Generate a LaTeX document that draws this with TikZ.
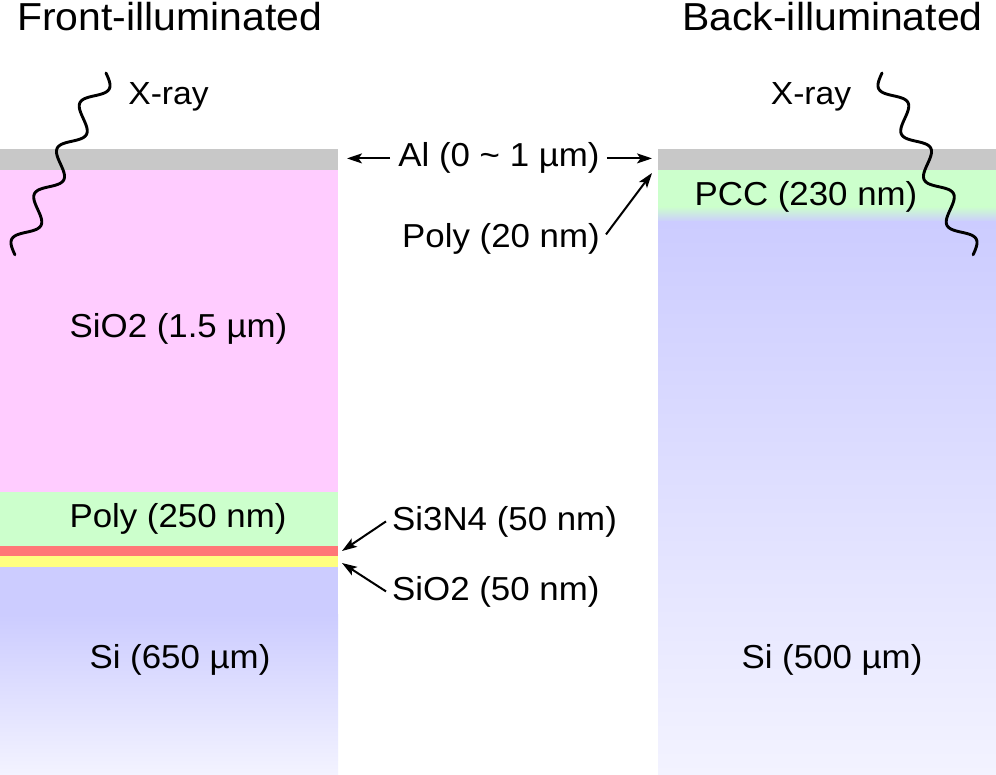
\documentclass[tikz,border=0pt]{standalone}
\usepackage{fontspec}
\setmainfont[FakeStretch=1.05]{Liberation Sans}
\usetikzlibrary{arrows.meta}
\definecolor{algray}{HTML}{C8C8C8}
\definecolor{oxpink}{HTML}{FFCCFF}
\definecolor{polygreen}{HTML}{CCFFCC}
\definecolor{nitred}{HTML}{FF7777}
\definecolor{thinyellow}{HTML}{FFFF80}
\definecolor{siblue}{HTML}{CCCCFF}
\definecolor{siblueL}{HTML}{F3F3FF}
\tikzset{
  lbl/.style={inner sep=0pt, font=\fontsize{33.2}{38}\selectfont},
  xlbl/.style={inner sep=0pt, font=\fontsize{32}{38}\selectfont},
  ttl/.style={inner sep=0pt, font=\fontsize{39}{45}\selectfont},
  arr/.style={line width=2pt, -{Stealth[length=15pt,width=10pt,inset=3.5pt]}},
  wave/.style={line width=2.9pt, line cap=round},
}
\begin{document}
\begin{tikzpicture}[x=1pt,y=-1pt]
\useasboundingbox (0,0) rectangle (996,775);
\fill[white] (0,0) rectangle (996,775);
% ---- front-illuminated stack
\fill[algray] (0,149) rectangle (338,170);
\fill[oxpink] (0,170) rectangle (338,492);
\fill[polygreen] (0,492) rectangle (338,545.5);
\fill[nitred] (0,545.5) rectangle (338,556);
\fill[thinyellow] (0,556) rectangle (338,567);
\fill[siblue] (0,567) rectangle (338,615);
\shade[top color=siblue, bottom color=siblueL] (0,614.5) rectangle (338,775);
% ---- back-illuminated stack
\fill[algray] (658,149) rectangle (996,170);
\fill[polygreen] (658,170) rectangle (996,207);
\shade[top color=polygreen, bottom color=siblue] (658,206.5) rectangle (996,222);
\shade[top color=siblue, bottom color=siblueL] (658,221.5) rectangle (996,775);
% ---- titles
\node[ttl, anchor=base] (tf) at (169.5,31) {Front-illuminated};
\node[ttl, anchor=base] (tb) at (832.5,31) {Back-illuminated};
% ---- x-rays
\node[xlbl, anchor=base] (xl) at (168.5,105) {X-ray};
\node[xlbl, anchor=base] (xr) at (811,105) {X-ray};
\draw[wave] plot[domain=0:1, samples=240, smooth]
  ({106 - 91*\x + 10*sin(1440*\x)*0.896}, {73 + 182*\x + 10*sin(1440*\x)*0.443});
\draw[wave] plot[domain=0:1, samples=240, smooth]
  ({882 + 91*\x - 10*sin(1440*\x)*0.896}, {73 + 182*\x + 10*sin(1440*\x)*0.443});
% ---- layer labels
\node[lbl, anchor=base] (sio2) at (178.5,338) {SiO2 (1.5 µm)};
\node[lbl, anchor=base] (poly250) at (178,527) {Poly (250 nm)};
\node[lbl, anchor=base] (si650) at (180,668) {Si (650 µm)};
\node[lbl, anchor=base] (pcc) at (806,206) {PCC (230 nm)};
\node[lbl, anchor=base] (si500) at (832,668) {Si (500 µm)};
% ---- middle annotations
\node[lbl, anchor=base] (al) at (499,167) {Al (0 \textasciitilde{} 1 µm)};
\node[lbl, anchor=base] (poly20) at (501,248) {Poly (20 nm)};
\node[lbl, anchor=base west] (si3n4) at (392,530) {Si3N4 (50 nm)};
\node[lbl, anchor=base west] (sio2t) at (392,600) {SiO2 (50 nm)};
\coordinate (alL) at (347,162);
\coordinate (alR) at (652,162);
\coordinate (polyT) at (652,173);
\coordinate (nT) at (342,551);
\coordinate (oT) at (342,563);
\draw[arr] ([xshift=-8pt]al.west) -- (al.west -| alL);
\draw[arr] ([xshift=7pt]al.east) -- (al.east -| alR);
\draw[arr] ([xshift=6pt,yshift=5pt]poly20.east) -- (polyT);
\draw[arr] ([xshift=-6pt]si3n4.west) -- (nT);
\draw[arr] ([xshift=-6pt]sio2t.west) -- (oT);
\end{tikzpicture}
\end{document}
